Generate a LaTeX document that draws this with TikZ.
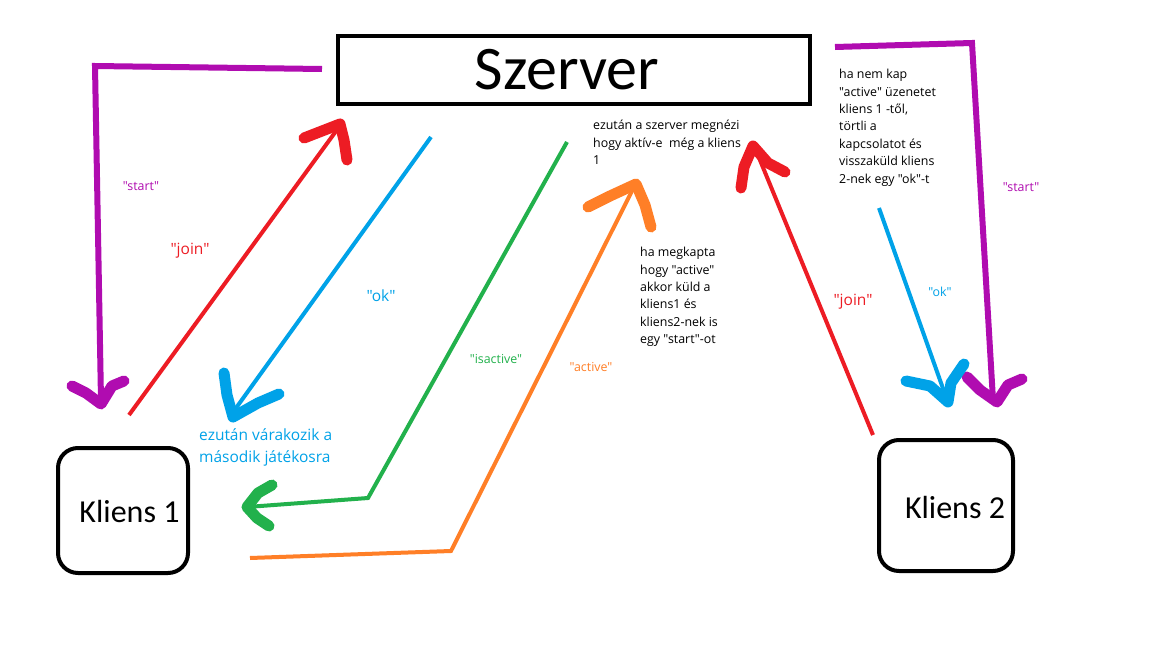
\documentclass[tikz,border=0pt]{standalone}
\usepackage{fontspec}
\setmainfont{Carlito}
\newfontfamily\lblfont{Open Sans}
\definecolor{cpurple}{HTML}{B00CB0}
\definecolor{cred}{HTML}{ED1C24}
\definecolor{cblue}{HTML}{00A2E8}
\definecolor{cgreen}{HTML}{22B14C}
\definecolor{corange}{HTML}{FF7F27}
\tikzset{
  box/.style={draw=black, line width=4pt, inner sep=0pt},
  wire/.style={line width=4pt},
  brush/.style={line width=11pt, line cap=round, line join=round},
  small/.style={inner sep=0pt, font=\lblfont\fontsize{12.4}{17.4}\selectfont},
  big/.style={inner sep=0pt, font=\lblfont\fontsize{15.5}{22}\selectfont},
  note/.style={small, align=left, anchor=north west}
}
\begin{document}
\begin{tikzpicture}[x=1pt,y=-1pt]
\useasboundingbox[fill=white] (0,0) rectangle (1152,648);

% boxes
\node[box, minimum width=472pt, minimum height=68pt] (szerver) at (574,70) {};
\node[inner sep=0pt, font=\fontsize{62}{62}\selectfont] (sztext) at (567,70) {Szerver};
\node[box, rounded corners=20pt, minimum width=130pt, minimum height=125pt] (k1) at (123,510.5) {};
\node[inner sep=0pt, font=\fontsize{32}{32}\selectfont] (k1text) at (129.5,512) {Kliens 1};
\node[box, rounded corners=20pt, minimum width=134pt, minimum height=131pt] (k2) at (946,505.5) {};
\node[inner sep=0pt, font=\fontsize{32}{32}\selectfont] (k2text) at (955,508) {Kliens 2};

% coordinates
\coordinate (pa) at (322,69);
\coordinate (pb) at (95,66);
\coordinate (pc) at (101,400);
\coordinate (ra) at (129,415);
\coordinate (rb) at (339,127);
\coordinate (ba) at (431,137);
\coordinate (bb) at (231,415);
\coordinate (ga) at (567,142);
\coordinate (gb) at (368,498);
\coordinate (gc) at (247,507);
\coordinate (oa) at (250,558);
\coordinate (ob) at (451,551);
\coordinate (oc) at (634,187);
\coordinate (rra) at (873,435);
\coordinate (rrb) at (755,148);
\coordinate (ppa) at (835,47);
\coordinate (ppb) at (972,43);
\coordinate (ppc) at (993,400);
\coordinate (bba) at (879,208);
\coordinate (bbb) at (946,397);

% purple left
\draw[cpurple, line width=6pt] (pa) -- (pb) -- (pc);
\draw[cpurple, brush] (72,386) -- (86,393) -- (101,404) -- (112,386) -- (124,381);
% red left
\draw[cred, wire] (ra) -- (rb);
\draw[cred, brush] (304,138) -- (322,131) -- (340,124) -- (344,140) -- (347,160);
% blue left
\draw[cblue, wire] (ba) -- (bb);
\draw[cblue, brush] (224,373) -- (227,395) -- (233,417) -- (258,403) -- (279,394);
% green
\draw[cgreen, wire] (ga) -- (gb) -- (gc);
\draw[cgreen, brush] (272,485) -- (258,493) -- (247,507) -- (257,518) -- (269,526);
% orange
\draw[corange, wire] (oa) -- (ob) -- (oc);
\draw[corange, brush] (588,207) -- (610,196) -- (636,184) -- (645,205) -- (651,227);
% red right
\draw[cred, wire] (rra) -- (rrb);
\draw[cred, brush] (741,188) -- (744,167) -- (753,146) -- (768,163) -- (785,172);
% purple right
\draw[cpurple, line width=6pt] (ppa) -- (ppb) -- (ppc);
\draw[cpurple, brush] (967,377) -- (980,390) -- (997,402) -- (1008,385) -- (1022,379);
% blue right
\draw[cblue, wire] (bba) -- (bbb);
\draw[cblue, brush] (906,381) -- (930,386) -- (948,402) -- (951,383) -- (964,364);

% labels
\node[small, text=cpurple] (lstart1) at (141,186) {"start"};
\node[big, text=cred] (ljoin1) at (190,251) {"join"};
\node[big, text=cblue] (lok1) at (381,296) {"ok"};
\node[big, text=cblue, align=left, anchor=north west] (lwait) at (199,428) {ezután várakozik a\\második játékosra};
\node[small, text=cgreen] (lisactive) at (496,359) {"isactive"};
\node[small, text=corange] (lactive) at (591,367) {"active"};
\node[big, text=cred] (ljoin2) at (853,302) {"join"};
\node[small, text=cblue] (lok2) at (940,292) {"ok"};
\node[small, text=cpurple] (lstart2) at (1021,187) {"start"};

% notes
\node[note] (n1) at (593,120) {ezután a szerver megnézi\\hogy aktív-e\ \ még a kliens\\1};
\node[note] (n2) at (839,69) {ha nem kap\\"active" üzenetet\\kliens 1 -től,\\törtli a\\kapcsolatot és\\visszaküld kliens\\2-nek egy "ok"-t};
\node[note] (n3) at (640,247) {ha megkapta\\hogy "active"\\akkor küld a\\kliens1 és\\kliens2-nek is\\egy "start"-ot};
\end{tikzpicture}
\end{document}
